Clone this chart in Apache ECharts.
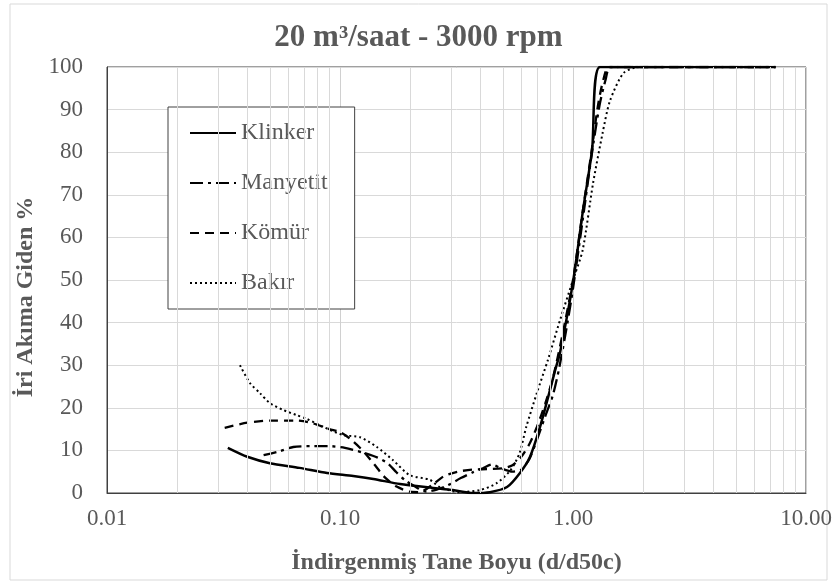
<!DOCTYPE html>
<html><head><meta charset="utf-8">
<script src="https://cdn.jsdelivr.net/npm/echarts@6/dist/echarts.min.js"></script>
<style>html,body{margin:0;padding:0;background:#fff}#c{width:837px;height:587px}</style>
</head><body><div id="c"></div>
<script>
const seriesNames = ['Klinker', 'Manyetit', 'Kömür', 'Bakır'];
const klinker = [[0.033,10.6],[0.040,8.5],[0.050,7.0],[0.067,5.9],[0.088,4.7],[0.114,4.0],[0.139,3.3],[0.181,2.1],[0.251,1.2],[0.305,0.7],[0.372,0.0],[0.440,0.2],[0.521,1.4],[0.592,4.7],[0.654,8.5],[0.722,15.5],[0.797,24.2],[0.84,29],[0.88,33],[1.0,49.5],[1.104,66.4],[1.207,80.5],[1.305,100],[7.4,100]];
const manyetit = [[0.047,8.9],[0.055,9.8],[0.063,10.8],[0.075,11.0],[0.09,11.0],[0.105,10.6],[0.125,9.5],[0.145,8.3],[0.16,7.0],[0.175,4.8],[0.19,3.0],[0.21,1.5],[0.235,0.3],[0.26,0.8],[0.29,1.8],[0.33,3.5],[0.37,4.8],[0.41,5.8],[0.45,6.7],[0.49,5.8],[0.55,5.0],[0.6,5.5],[0.65,8],[0.7,12.5],[0.76,18],[0.82,23],[0.87,29],[0.94,39],[1.0,48],[1.1,64],[1.2,79],[1.3,91],[1.38,97],[1.45,100],[7.4,100]];
const komur = [[0.032,15.3],[0.04,16.5],[0.05,17.0],[0.065,17.0],[0.075,16.5],[0.09,15.0],[0.1,14.3],[0.11,12.8],[0.125,10],[0.14,6.8],[0.155,3.8],[0.175,1.5],[0.2,0.3],[0.22,0.2],[0.25,2],[0.28,4],[0.32,5],[0.37,5.5],[0.43,5.6],[0.5,5.8],[0.55,6.5],[0.6,8.5],[0.65,11.5],[0.7,15.5],[0.76,21],[0.82,27],[0.9,37],[1.0,50],[1.1,66],[1.2,80],[1.28,91],[1.35,97],[1.43,100],[7.4,100]];
const bakir = [[0.0372,30],[0.0411,25.8],[0.0454,23.4],[0.050,21.1],[0.057,19.5],[0.065,18.3],[0.072,17.4],[0.085,15.5],[0.103,13.6],[0.122,13.1],[0.144,10.8],[0.169,7.7],[0.199,4.2],[0.243,3.1],[0.268,1.4],[0.327,0.2],[0.40,0.7],[0.47,2.3],[0.54,5.4],[0.59,9.4],[0.63,15.5],[0.70,23.5],[0.78,31.2],[0.88,40.6],[1.0,50],[1.10,57],[1.22,72.8],[1.34,84.5],[1.44,92],[1.65,98.6],[1.94,100],[7.4,100]];
const minorGridX = [0.02,0.03,0.04,0.05,0.06,0.07,0.08,0.09,0.2,0.3,0.4,0.5,0.6,0.7,0.8,0.9,2,3,4,5,6,7,8,9];

const FONT = 'Liberation Serif';
const TXT = '#595959';
const chart = echarts.init(document.getElementById('c'), null, {renderer: 'canvas'});
const lineBase = {type: 'line', symbol: 'none', showSymbol: false, smooth: 0.25, z: 3};
chart.setOption({
  animation: false,
  backgroundColor: '#fff',
  title: {
    text: '20 m³/saat - 3000 rpm', left: 'center', top: 17,
    textStyle: {fontFamily: FONT, fontWeight: 'bold', fontSize: 31, color: TXT}
  },
  graphic: [{type: 'rect', shape: {x: 10, y: 4, width: 817, height: 576}, style: {fill: 'none', stroke: '#d9d9d9', lineWidth: 1}, silent: true, z: -10}],
  grid: {left: 107, right: 31, top: 67, bottom: 94, show: true, borderColor: '#404040', borderWidth: 1, backgroundColor: 'transparent'},
  legend: {
    data: seriesNames, orient: 'vertical', left: 168, top: 107,
    itemWidth: 46, itemHeight: 14, itemGap: 26,
    padding: [14, 27, 14, 21], borderColor: '#404040', borderWidth: 1, backgroundColor: '#fff',
    itemStyle: {color: 'rgba(0,0,0,0)', borderWidth: 0, opacity: 0},
    textStyle: {fontFamily: FONT, fontSize: 24, color: TXT}
  },
  xAxis: {
    type: 'log', logBase: 10, min: 0.01, max: 10,
    name: 'İndirgenmiş Tane Boyu (d/d50c)', nameLocation: 'middle', nameGap: 58,
    nameTextStyle: {fontFamily: FONT, fontWeight: 'bold', fontSize: 24, color: TXT},
    axisLine: {lineStyle: {color: '#404040'}}, axisTick: {show: false},
    axisLabel: {fontFamily: FONT, fontSize: 23, color: TXT, margin: 14, formatter: v => Number(v).toFixed(2)},
    splitLine: {show: true, lineStyle: {color: '#d0d0d0'}}
  },
  yAxis: {
    type: 'value', min: 0, max: 100, interval: 10,
    name: 'İri Akıma Giden %', nameLocation: 'middle', nameGap: 64, nameRotate: 90,
    nameTextStyle: {fontFamily: FONT, fontWeight: 'bold', fontSize: 24, color: TXT, padding: [0, 34, 0, 0]},
    axisLine: {show: true, lineStyle: {color: '#404040'}}, axisTick: {show: false},
    axisLabel: {fontFamily: FONT, fontSize: 23, color: TXT, margin: 24},
    splitLine: {show: true, lineStyle: {color: '#d9d9d9'}}
  },
  series: [
    {type: 'line', name: '_grid', data: [], z: 1, silent: true,
      markLine: {silent: true, symbol: ['none', 'none'], label: {show: false}, animation: false,
        lineStyle: {color: '#d9d9d9', type: 'solid', width: 1},
        data: minorGridX.map(v => ({xAxis: v}))}},
    Object.assign({}, lineBase, {name: 'Klinker', data: klinker, lineStyle: {color: '#000', width: 2.5, type: 'solid'}, itemStyle: {color: '#000'}}),
    Object.assign({}, lineBase, {name: 'Manyetit', data: manyetit, lineStyle: {color: '#000', width: 2.3, type: [13, 5, 3, 5]}, itemStyle: {color: '#000'}}),
    Object.assign({}, lineBase, {name: 'Kömür', data: komur, lineStyle: {color: '#000', width: 2.3, type: [9, 6]}, itemStyle: {color: '#000'}}),
    Object.assign({}, lineBase, {name: 'Bakır', data: bakir, lineStyle: {color: '#000', width: 2, type: [2, 3]}, itemStyle: {color: '#000'}})
  ]
});
</script></body></html>
